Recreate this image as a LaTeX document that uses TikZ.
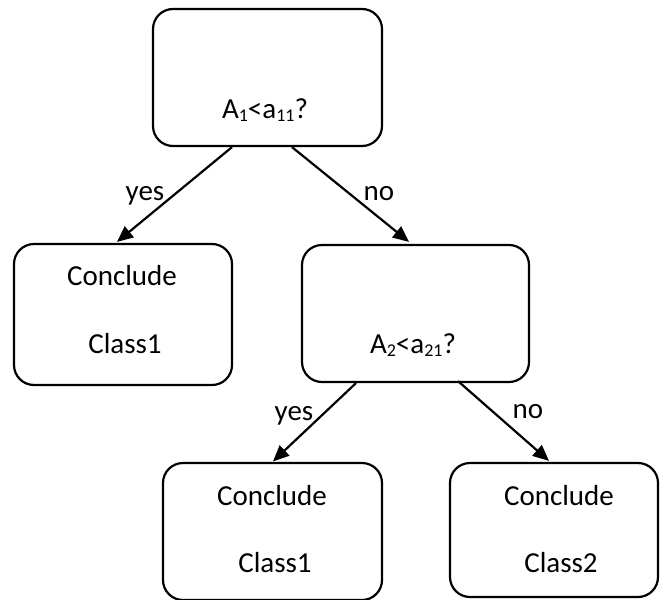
\documentclass[tikz,border=0pt]{standalone}
\usepackage{fontspec}
\setmainfont{Carlito}
\usetikzlibrary{arrows.meta,calc}
\newcommand{\lowidx}[1]{\raisebox{-3pt}{\fontsize{18}{18}\selectfont #1}}
\begin{document}
\begin{tikzpicture}[x=1pt,y=-1pt,
  box/.style={draw,line width=2.2pt,rounded corners=20pt,inner sep=0pt},
  txt/.style={anchor=base,inner sep=0pt,font=\fontsize{29}{34}\selectfont},
  arr/.style={line width=2.2pt,-{Triangle[length=16pt,width=14pt]}}]
\useasboundingbox (0,0) rectangle (660,599);
% boxes
\node[box,minimum width=229pt,minimum height=137pt] (T) at (267.5,77.5) {};
\node[box,minimum width=218pt,minimum height=141pt] (L) at (123,314.5) {};
\node[box,minimum width=227pt,minimum height=137pt] (M) at (415.5,313.5) {};
\node[box,minimum width=219pt,minimum height=137pt] (BL) at (272.5,531.5) {};
\node[box,minimum width=208pt,minimum height=134pt] (BR) at (554,530) {};
% texts
\node[txt] (tT) at (265,118) {A\lowidx{1}<a\lowidx{11}?};
\node[txt] (tL1) at (122,285) {Conclude};
\node[txt] (tL2) at (125,353) {Class1};
\node[txt] (tM) at (413,353) {A\lowidx{2}<a\lowidx{21}?};
\node[txt] (tBL1) at (272,505) {Conclude};
\node[txt] (tBL2) at (275,572) {Class1};
\node[txt] (tBR1) at (559,505) {Conclude};
\node[txt] (tBR2) at (561,572) {Class2};
% connectors
\coordinate (s1) at ($(T.south)+(-35.5,0)$);
\coordinate (e1) at ($(L.north)+(-6,-1)$);
\coordinate (s2) at ($(T.south)+(24.5,0)$);
\coordinate (e2) at ($(M.north)+(-6.5,-2)$);
\coordinate (s3) at ($(M.south)+(-59.5,0)$);
\coordinate (e3) at ($(BL.north)+(0.5,-0.5)$);
\coordinate (s4) at ($(M.south)+(42.5,-2)$);
\coordinate (e4) at ($(BR.north)+(-5,-1)$);
\draw[arr] (s1) -- (e1);
\draw[arr] (s2) -- (e2);
\draw[arr] (s3) -- (e3);
\draw[arr] (s4) -- (e4);
% labels
\node[txt] (y1) at (145,200) {yes};
\node[txt] (n1) at (379,200) {no};
\node[txt] (y2) at (294,420) {yes};
\node[txt] (n2) at (528,418) {no};
\end{tikzpicture}
\end{document}
